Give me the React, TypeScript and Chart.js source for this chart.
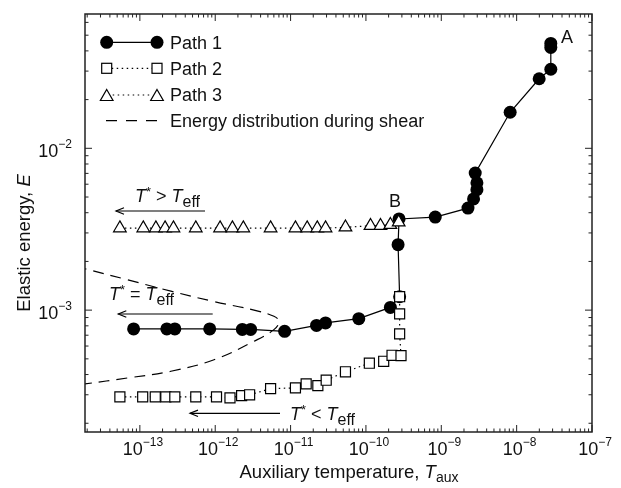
import React, { useEffect, useRef } from 'react';
import { Chart, registerables } from 'chart.js';
Chart.register(...registerables);

const FONT = "'Liberation Sans', Arial, Helvetica, sans-serif";

// Axis ranges (log-log)
const X_MIN = 1.87e-14;
const X_MAX = 1e-7;
const Y_MIN = 1.766e-4;
const Y_MAX = 0.0676;
const X_DECADES = [-13, -12, -11, -10, -9, -8, -7];
const Y_DECADES = [-3, -2];

// Path 1 (filled circles, solid line)
const path1X = [8.26e-14, 2.28e-13, 2.91e-13, 8.45e-13, 2.29e-12, 2.95e-12, 8.34e-12, 2.21e-11, 2.91e-11, 8.04e-11, 2.11e-10, 2.8e-10, 2.67e-10, 2.75e-10, 8.32e-10, 2.26e-9, 2.68e-9, 2.97e-9, 2.97e-9, 2.82e-9, 8.2e-9, 1.99e-8, 2.84e-8, 2.84e-8, 2.84e-8];
const path1Y = [7.66e-4, 7.66e-4, 7.66e-4, 7.66e-4, 7.6e-4, 7.6e-4, 7.4e-4, 8.05e-4, 8.34e-4, 8.86e-4, 1.04e-3, 1.21e-3, 2.54e-3, 3.66e-3, 3.76e-3, 4.27e-3, 4.87e-3, 5.55e-3, 6.12e-3, 7.03e-3, 0.0167, 0.0269, 0.0308, 0.042, 0.0445];

// Path 2 (open squares, dotted line)
const path2X = [5.43e-14, 1.09e-13, 1.6e-13, 2.21e-13, 2.91e-13, 5.52e-13, 1.04e-12, 1.57e-12, 2.24e-12, 2.86e-12, 5.43e-12, 1.16e-11, 1.61e-11, 2.3e-11, 2.97e-11, 5.35e-11, 1.11e-10, 1.72e-10, 2.22e-10, 2.92e-10, 2.8e-10, 2.8e-10, 2.8e-10];
const path2Y = [2.91e-4, 2.91e-4, 2.91e-4, 2.91e-4, 2.91e-4, 2.91e-4, 2.91e-4, 2.87e-4, 2.96e-4, 3.0e-4, 3.27e-4, 3.31e-4, 3.5e-4, 3.42e-4, 3.69e-4, 4.16e-4, 4.7e-4, 4.83e-4, 5.26e-4, 5.24e-4, 7.13e-4, 9.48e-4, 1.21e-3];

// Path 3 (open triangles, dotted line)
const path3X = [5.43e-14, 1.11e-13, 1.63e-13, 2.16e-13, 2.79e-13, 5.52e-13, 1.16e-12, 1.69e-12, 2.36e-12, 5.43e-12, 1.16e-11, 1.66e-11, 2.26e-11, 2.91e-11, 5.35e-11, 1.15e-10, 1.56e-10, 2.11e-10, 2.72e-10];
const path3Y = [3.21e-3, 3.21e-3, 3.21e-3, 3.21e-3, 3.21e-3, 3.21e-3, 3.21e-3, 3.21e-3, 3.21e-3, 3.21e-3, 3.21e-3, 3.21e-3, 3.21e-3, 3.21e-3, 3.25e-3, 3.32e-3, 3.32e-3, 3.37e-3, 3.49e-3];

// Energy distribution during shear (dashed curve)
const distX = [1.4e-14, 1.87e-14, 6.87e-14, 2.58e-13, 9.64e-13, 3.27e-12, 6.01e-12, 7.0e-12, 6.01e-12, 3.27e-12, 9.64e-13, 2.58e-13, 6.87e-14, 1.87e-14, 1.4e-14];
const distY = [1.86e-3, 1.8e-3, 1.54e-3, 1.31e-3, 1.13e-3, 1.0e-3, 9.16e-4, 8.5e-4, 7.58e-4, 6.42e-4, 4.94e-4, 4.19e-4, 3.81e-4, 3.5e-4, 3.45e-4];

const zip = (xs: number[], ys: number[]) => xs.map((x, i) => ({ x, y: ys[i] }));

type Part = { t: string; it?: boolean; sz?: number; dy?: number };

function fontOf(p: Part, base: number) {
  return `${p.it ? 'italic ' : ''}${p.sz ?? base}px ${FONT}`;
}
function richWidth(ctx: CanvasRenderingContext2D, parts: Part[], base: number) {
  let w = 0;
  for (const p of parts) {
    ctx.font = fontOf(p, base);
    w += ctx.measureText(p.t).width;
  }
  return w;
}
function drawRich(ctx: CanvasRenderingContext2D, parts: Part[], x: number, y: number, align: 'left' | 'center' | 'right', base = 18) {
  const w = richWidth(ctx, parts, base);
  let cx = align === 'left' ? x : align === 'right' ? x - w : x - w / 2;
  ctx.textAlign = 'left';
  ctx.textBaseline = 'alphabetic';
  for (const p of parts) {
    ctx.font = fontOf(p, base);
    ctx.fillText(p.t, cx, y + (p.dy ?? 0));
    cx += ctx.measureText(p.t).width;
  }
}
function line(ctx: CanvasRenderingContext2D, x1: number, y1: number, x2: number, y2: number) {
  ctx.beginPath();
  ctx.moveTo(x1, y1);
  ctx.lineTo(x2, y2);
  ctx.stroke();
}
function arrowLeft(ctx: CanvasRenderingContext2D, xFrom: number, xTo: number, y: number) {
  ctx.save();
  ctx.strokeStyle = '#000';
  ctx.lineWidth = 1.2;
  line(ctx, xFrom, y, xTo, y);
  ctx.beginPath();
  ctx.moveTo(xTo + 8, y - 3.2);
  ctx.lineTo(xTo, y);
  ctx.lineTo(xTo + 8, y + 3.2);
  ctx.stroke();
  ctx.restore();
}

const decorations = {
  id: 'decorations',
  afterDraw(chart: any) {
    const ctx: CanvasRenderingContext2D = chart.ctx;
    const xs = chart.scales.x;
    const ys = chart.scales.y;
    const { left, right, top, bottom } = chart.chartArea;
    ctx.save();
    ctx.fillStyle = '#000';
    ctx.strokeStyle = '#222';

    // frame
    ctx.lineWidth = 1.5;
    ctx.strokeRect(left, top, right - left, bottom - top);

    // ticks
    ctx.lineWidth = 1;
    for (let k = -15; k <= -6; k++) {
      for (let m = 1; m <= 9; m++) {
        const v = m * Math.pow(10, k);
        if (v >= X_MIN * 1.0001 && v <= X_MAX * 1.0001) {
          const px = xs.getPixelForValue(v);
          const len = m === 1 ? 7 : 3.5;
          line(ctx, px, bottom, px, bottom - len);
          line(ctx, px, top, px, top + len);
        }
      }
    }
    for (let k = -5; k <= -1; k++) {
      for (let m = 1; m <= 9; m++) {
        const v = m * Math.pow(10, k);
        if (v >= Y_MIN * 1.0001 && v <= Y_MAX * 0.9999) {
          const py = ys.getPixelForValue(v);
          const len = m === 1 ? 7 : 3.5;
          line(ctx, left, py, left + len, py);
          line(ctx, right, py, right - len, py);
        }
      }
    }

    // tick labels
    ctx.fillStyle = '#111';
    for (const k of X_DECADES) {
      const px = xs.getPixelForValue(Math.pow(10, k));
      const parts: Part[] = [{ t: '10' }, { t: '\u2212' + Math.abs(k), sz: 12, dy: -8.5 }];
      const w = richWidth(ctx, parts, 18);
      drawRich(ctx, parts, px - w / 2 + 3, bottom + 22.5, 'left');
    }
    for (const k of Y_DECADES) {
      const py = ys.getPixelForValue(Math.pow(10, k));
      const parts: Part[] = [{ t: '10' }, { t: '\u2212' + Math.abs(k), sz: 12, dy: -9 }];
      drawRich(ctx, parts, left - 13, py + 9, 'right');
    }

    // axis titles
    drawRich(ctx, [
      { t: 'Auxiliary temperature, ' },
      { t: 'T', it: true },
      { t: 'aux', sz: 14, dy: 4 },
    ], 349, 478, 'center', 18.5);
    ctx.save();
    ctx.translate(30, 243);
    ctx.rotate(-Math.PI / 2);
    drawRich(ctx, [{ t: 'Elastic energy, ' }, { t: 'E', it: true }], 0, 0, 'center', 18.5);
    ctx.restore();

    // legend
    const lx1 = 106.7, lx2 = 157, tx = 170;
    const rows = [42.3, 68.3, 95, 120.7];
    ctx.lineWidth = 1.2;
    ctx.strokeStyle = '#000';
    // Path 1
    line(ctx, lx1, rows[0], lx2, rows[0]);
    for (const x of [lx1, lx2]) {
      ctx.beginPath();
      ctx.arc(x, rows[0], 6.5, 0, Math.PI * 2);
      ctx.fillStyle = '#000';
      ctx.fill();
    }
    // Path 2
    ctx.setLineDash([1.5, 3.5]);
    line(ctx, lx1 + 5, rows[1], lx2 - 5, rows[1]);
    line(ctx, lx1 + 6, rows[2], lx2 - 6, rows[2]);
    ctx.setLineDash([]);
    for (const x of [lx1, lx2]) {
      ctx.fillStyle = '#fff';
      ctx.fillRect(x - 5, rows[1] - 5, 10, 10);
      ctx.strokeRect(x - 5, rows[1] - 5, 10, 10);
      const r = 7.3;
      const cy = rows[2] + r / 4;
      ctx.beginPath();
      ctx.moveTo(x, cy - r);
      ctx.lineTo(x + 0.866 * r, cy + r / 2);
      ctx.lineTo(x - 0.866 * r, cy + r / 2);
      ctx.closePath();
      ctx.fill();
      ctx.stroke();
    }
    ctx.setLineDash([11, 9]);
    line(ctx, 106, rows[3], 157, rows[3]);
    ctx.setLineDash([]);
    ctx.fillStyle = '#111';
    const labels = ['Path 1', 'Path 2', 'Path 3', 'Energy distribution during shear'];
    labels.forEach((l, i) => drawRich(ctx, [{ t: l }], tx, rows[i] + 6.4, 'left'));

    // annotations
    drawRich(ctx, [{ t: 'T', it: true }, { t: '*', sz: 13, dy: -6 }, { t: ' > ' }, { t: 'T', it: true }, { t: 'eff', sz: 16, dy: 4.5 }], 135, 202, 'left');
    arrowLeft(ctx, 205, 116, 211);
    drawRich(ctx, [{ t: 'T', it: true }, { t: '*', sz: 13, dy: -6 }, { t: ' = ' }, { t: 'T', it: true }, { t: 'eff', sz: 16, dy: 4.5 }], 109, 300, 'left');
    arrowLeft(ctx, 212.7, 118.3, 314);
    drawRich(ctx, [{ t: 'T', it: true }, { t: '*', sz: 13, dy: -6 }, { t: ' < ' }, { t: 'T', it: true }, { t: 'eff', sz: 16, dy: 4.5 }], 290, 420, 'left');
    arrowLeft(ctx, 280, 190, 413.3);
    drawRich(ctx, [{ t: 'A' }], 567, 43.2, 'center');
    drawRich(ctx, [{ t: 'B' }], 395, 206.5, 'center');

    ctx.restore();
  },
};

export default function App() {
  const ref = useRef<HTMLCanvasElement>(null);
  useEffect(() => {
    if (!ref.current) return;
    const chart = new Chart(ref.current, {
      type: 'scatter',
      data: {
        datasets: [
          {
            label: 'Path 3',
            data: zip(path3X, path3Y),
            showLine: true,
            borderColor: '#000',
            borderWidth: 1.2,
            borderDash: [1.5, 3.5],
            pointStyle: 'triangle',
            pointRadius: 7.3,
            pointBackgroundColor: '#fff',
            pointBorderColor: '#000',
            pointBorderWidth: 1.2,
            order: 0,
          },
          {
            label: 'Path 2',
            data: zip(path2X, path2Y),
            showLine: true,
            borderColor: '#000',
            borderWidth: 1.2,
            borderDash: [1.5, 3.5],
            pointStyle: 'rect',
            pointRadius: 7.1,
            pointBackgroundColor: '#fff',
            pointBorderColor: '#000',
            pointBorderWidth: 1.2,
            order: 1,
          },
          {
            label: 'Path 1',
            data: zip(path1X, path1Y),
            showLine: true,
            borderColor: '#000',
            borderWidth: 1.2,
            pointStyle: 'circle',
            pointRadius: 6.5,
            pointBackgroundColor: '#000',
            pointBorderColor: '#000',
            pointBorderWidth: 0,
            order: 2,
          },
          {
            label: 'Energy distribution during shear',
            data: zip(distX, distY),
            showLine: true,
            borderColor: '#000',
            borderWidth: 1.2,
            borderDash: [11, 7],
            pointRadius: 0,
            tension: 0.4,
            order: 3,
          },
        ] as any,
      },
      options: {
        animation: false,
        responsive: false,
        devicePixelRatio: 1,
        events: [],
        layout: { padding: { left: 85, right: 29, top: 14, bottom: 56 } },
        scales: {
          x: { type: 'logarithmic', min: X_MIN, max: X_MAX, display: false },
          y: { type: 'logarithmic', min: Y_MIN, max: Y_MAX, display: false },
        },
        plugins: { legend: { display: false }, tooltip: { enabled: false } },
      } as any,
      plugins: [decorations],
    });
    return () => chart.destroy();
  }, []);
  return (
    <div style={{ position: 'absolute', left: 0, top: 0, width: 621, height: 488, background: '#fff' }}>
      <canvas ref={ref} width={621} height={488} />
    </div>
  );
}
